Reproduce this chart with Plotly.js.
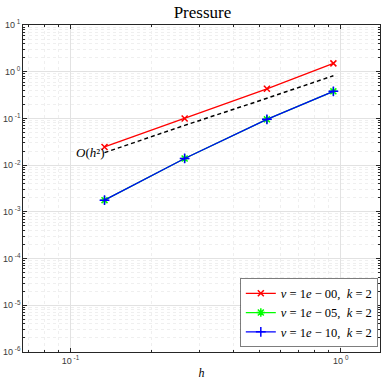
<!DOCTYPE html>
<html>
<head>
<meta charset="utf-8">
<script src="https://cdn.plot.ly/plotly-3.0.1.min.js"></script>
<style>
  html, body { margin: 0; padding: 0; background: #ffffff; }
  #chart { width: 382px; height: 382px; }
</style>
</head>
<body>
<div id="chart"></div>
<script>
// mesh sizes and pressure errors
const h = [0.1336, 0.2644, 0.533, 0.939];
const errNu0 = [0.0245, 0.100, 0.43, 1.51];
const errNu5 = [0.00178, 0.0139, 0.0955, 0.38];
const errNu10 = [0.00178, 0.0139, 0.0955, 0.38];
const refSlope = [0.0185, 0.071, 0.27, 0.82];
const seriesNames = [
    '<i>ν</i> = 1<i>e</i> − 00,  <i>k</i> = 2',
    '<i>ν</i> = 1<i>e</i> − 05,  <i>k</i> = 2',
    '<i>ν</i> = 1<i>e</i> − 10,  <i>k</i> = 2'
];
const xTickVals = [0.1, 1];
const xTickText = ['10<sup> -1</sup>', '10<sup> 0</sup>'];
const yTickVals = [1e1, 1e0, 1e-1, 1e-2, 1e-3, 1e-4, 1e-5, 1e-6];
const yTickText = ['10<sup> 1</sup>', '10<sup> 0</sup>', '10<sup> -1</sup>', '10<sup> -2</sup>',
    '10<sup> -3</sup>', '10<sup> -4</sup>', '10<sup> -5</sup>', '10<sup> -6</sup>'];

const serif = 'Liberation Serif, DejaVu Serif, serif';
const tickFont = { family: 'Liberation Sans, Arial, sans-serif', size: 9, color: '#3a3a3a' };

const gridAxis = {
    type: 'log',
    showline: true,
    linecolor: '#262626',
    linewidth: 0.6,
    mirror: 'ticks',
    ticks: 'inside',
    ticklen: 4,
    tickcolor: '#262626',
    tickmode: 'array',
    showgrid: true,
    gridcolor: '#e2e2e2',
    gridwidth: 0.6,
    zeroline: false,
    tickfont: tickFont,
    minor: { showgrid: true, gridcolor: '#efefef', griddash: 'dot', ticks: 'inside', ticklen: 2, tickcolor: '#262626', dtick: 'D1' }
};

Plotly.newPlot('chart',
    [
        {
            x: h, y: errNu0, name: seriesNames[0], type: 'scatter', mode: 'lines+markers',
            line: { color: '#ff0000', width: 1.3 },
            marker: { symbol: 'x-thin-open', size: 6, color: '#ff0000', line: { color: '#ff0000', width: 1.5 } }
        },
        {
            x: h, y: errNu5, name: seriesNames[1], type: 'scatter', mode: 'lines+markers',
            line: { color: '#00ff00', width: 1.3 },
            marker: { symbol: 'asterisk-open', size: 7, color: '#00ff00', line: { color: '#00ff00', width: 1.5 } }
        },
        {
            x: h, y: errNu10, name: seriesNames[2], type: 'scatter', mode: 'lines+markers',
            line: { color: '#0000ff', width: 1.3 },
            marker: { symbol: 'cross-thin-open', size: 7, color: '#0000ff', line: { color: '#0000ff', width: 1.5 } }
        },
        {
            x: h, y: refSlope, type: 'scatter', mode: 'lines', showlegend: false,
            line: { color: '#000000', width: 1.5, dash: '4px,3px' }
        }
    ],
    {
        width: 382,
        height: 382,
        margin: { l: 23, r: 2, t: 25, b: 30 },
        paper_bgcolor: '#ffffff',
        plot_bgcolor: '#ffffff',
        title: { text: 'Pressure', font: { family: serif, size: 17, color: '#000000' }, x: 0.53, xanchor: 'center', y: 0.968, yanchor: 'middle' },
        xaxis: Object.assign({}, gridAxis, {
            range: [Math.log10(0.0667), Math.log10(1.397)],
            tickvals: xTickVals, ticktext: xTickText,
            title: { text: '<i>h</i>', font: { family: serif, size: 12, color: '#000000' }, standoff: 4 }
        }),
        yaxis: Object.assign({}, gridAxis, {
            range: [-6, 1],
            tickvals: yTickVals, ticktext: yTickText
        }),
        showlegend: true,
        legend: {
            x: 0.995, xanchor: 'right', y: 0.015, yanchor: 'bottom',
            bgcolor: '#ffffff', bordercolor: '#262626', borderwidth: 0.6,
            font: { family: serif, size: 12.5, color: '#000000' },
            tracegroupgap: 0, itemwidth: 30
        },
        annotations: [{
            x: Math.log10(0.1336), y: Math.log10(0.0185), xref: 'x', yref: 'y',
            text: '<i>O</i>(<i>h</i>²)', showarrow: false,
            xanchor: 'right', yanchor: 'middle', xshift: 1,
            font: { family: serif, size: 13, color: '#000000' }
        }]
    },
    { displayModeBar: false, responsive: false }
);
</script>
</body>
</html>
